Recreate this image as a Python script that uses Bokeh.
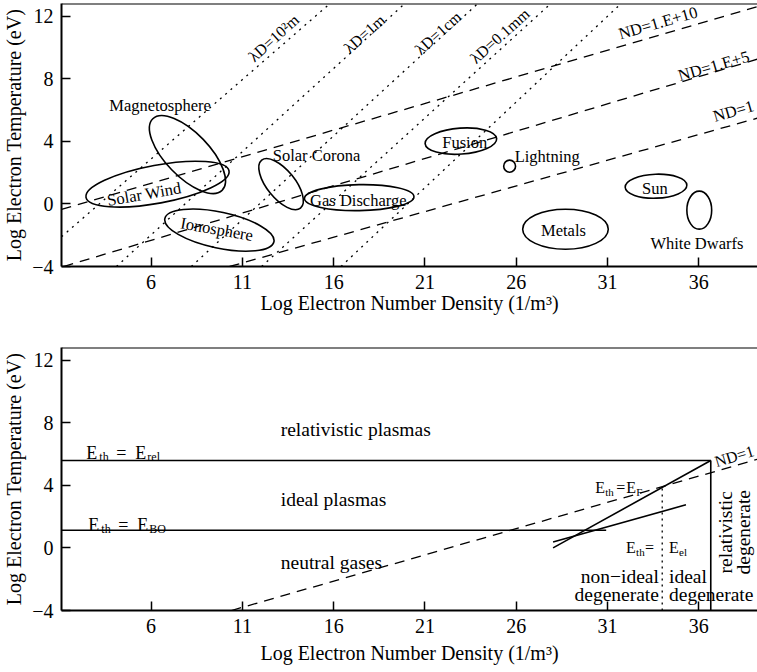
from bokeh.plotting import figure
from bokeh.layouts import column
from bokeh.models import FixedTicker, Range1d, Span
from bokeh.embed import file_html
from bokeh.resources import INLINE
from bokeh.core.properties import value

FONT = "Liberation Serif"

# ---------------- shared axes ----------------
x_ticks = [6, 11, 16, 21, 26, 31, 36]
y_ticks = [-4, 0, 4, 8, 12]
x_lo, x_hi = 1.09, 39.22
y_lo, y_hi = -4.0, 12.8
x_title = "Log Electron Number Density (1/m³)"
y_title = "Log Electron Temperature (eV)"

# ---------------- top panel: Debye-length lines (dotted) ----------------
debye_names = ["λD=10²m", "λD=1m", "λD=1cm", "λD=0.1mm"]
debye_x0 = [1.09, 4.1, 8.2, 12.05, 16.4]
debye_y0 = [-2.1, -4.0, -4.0, -4.0, -4.0]
debye_x1 = [15.8, 19.9, 23.9, 27.9, 31.75]
debye_y1 = [12.8, 12.8, 12.8, 12.8, 12.8]
debye_lab_x = [12.72, 17.68, 21.72, 25.1]
debye_lab_y = [10.6, 10.86, 10.92, 10.73]

# ---------------- top panel: plasma-parameter lines (dashed) ----------------
nd_names = ["ND=1.E+10", "ND=1.E+5", "ND=1"]
nd_x0 = [1.09, 1.2, 10.3]
nd_y0 = [-0.35, -4.0, -4.0]
nd_x1 = [39.22, 39.22, 39.22]
nd_y1 = [12.6, 9.25, 5.48]
nd_lab_x = [33.77, 36.82, 37.9]
nd_lab_y = [11.56, 8.81, 5.93]

# ---------------- top panel: plasma regions (ellipses) ----------------
regions = ["Magnetosphere", "Solar Wind", "Ionosphere", "Solar Corona",
           "Gas Discharge", "Fusion", "Lightning", "Sun", "Metals", "White Dwarfs"]
reg_x = [7.99, 6.35, 9.74, 13.12, 17.40, 22.97, 25.64, 33.66, 28.70, 36.03]
reg_y = [3.15, 1.26, -1.68, 1.26, 0.40, 4.01, 2.41, 1.13, -1.62, -0.40]
reg_w = [5.46, 7.97, 6.11, 3.38, 6.0, 3.93, 0.65, 3.38, 4.69, 1.36]
reg_h = [2.8, 2.43, 2.3, 1.79, 1.66, 1.66, 0.77, 1.53, 2.56, 2.43]
reg_angle = [-46, 10.5, -12, -51, 1, 4, 0, 2, 0, 0]
reg_lab_x = [6.49, 5.62, 9.6, 15.06, 17.35, 23.18, 27.7, 33.6, 28.59, 35.9]
reg_lab_y = [6.31, 0.62, -1.62, 3.12, 0.24, 3.95, 3.05, 1.0, -1.68, -2.51]
reg_lab_angle = [0, 10, -10, 0, 0, 0, 0, 0, 0, 0]

# ---------------- bottom panel ----------------
rel_level, rel_end = 5.58, 36.66      # E_th = E_rel
bo_level, bo_end = 1.13, 30.93        # E_th = E_BO
fermi_x = [28.02, 36.66]
fermi_y = [0.0, 5.58]
coul_x = [28.02, 35.3]
coul_y = [0.38, 2.75]
nd1_x = [10.4, 39.22]
nd1_y = [-4.0, 5.66]
split_x, split_top = 34.0, 3.86
regime_names = ["relativistic plasmas", "ideal plasmas", "neutral gases"]
regime_x = [13.1, 13.1, 13.1]
regime_y = [7.58, 3.11, -0.91]


def make_fig(height, top, bottom, label_gap):
    p = figure(width=757, height=height, output_backend="svg", toolbar_location=None,
               x_range=Range1d(x_lo, x_hi), y_range=Range1d(y_lo, y_hi),
               min_border_left=58, min_border_right=0,
               min_border_top=top, min_border_bottom=bottom)
    p.xgrid.visible = False
    p.ygrid.visible = False
    p.outline_line_color = None
    p.add_layout(Span(location=y_hi, dimension="width", line_color="black", line_width=2))
    p.background_fill_color = "white"
    p.border_fill_color = "white"
    p.xaxis.ticker = FixedTicker(ticks=x_ticks)
    p.yaxis.ticker = FixedTicker(ticks=y_ticks)
    for ax in (p.xaxis, p.yaxis):
        ax.axis_line_width = 2
        ax.axis_line_color = "black"
        ax.major_tick_in = 9
        ax.major_tick_out = 0
        ax.major_tick_line_width = 1.5
        ax.major_tick_line_color = "black"
        ax.minor_tick_line_color = None
        ax.major_label_text_font = FONT
        ax.major_label_text_font_size = "20px"
        ax.major_label_text_color = "black"
        ax.axis_label_text_font = FONT
        ax.axis_label_text_font_size = "20px"
        ax.axis_label_text_font_style = "normal"
        ax.axis_label_text_color = "black"
    p.xaxis.axis_label = x_title
    p.yaxis.axis_label = y_title
    p.xaxis.major_label_standoff = 8
    p.xaxis.axis_label_standoff = label_gap
    p.yaxis.major_label_standoff = 8
    p.yaxis.axis_label_standoff = 4
    return p


def label(p, x, y, txt, size, angle=0, align="center", baseline="middle", xo=0, yo=0):
    p.text(x=[x], y=[y], text=[txt], angle=angle, angle_units="deg",
           x_offset=xo, y_offset=yo,
           text_font=value(FONT), text_font_size=value(size), text_color="black",
           text_align=align, text_baseline=baseline)


def eq_label(p, x, y, parts, main, sub):
    for txt, off, is_sub in parts:
        label(p, x, y, txt, sub if is_sub else main, align="left",
              baseline="alphabetic", xo=off, yo=(4 if is_sub else 0))


# ================= TOP PANEL =================
p1 = make_fig(330, 3, 64, 0)
p1.segment(debye_x0, debye_y0, debye_x1, debye_y1, line_color="black",
           line_width=1.3, line_dash="2 5")
p1.segment(nd_x0, nd_y0, nd_x1, nd_y1, line_color="black",
           line_width=1.3, line_dash="10 7")
p1.ellipse(x=reg_x, y=reg_y, width=reg_w, height=reg_h, angle=reg_angle,
           angle_units="deg", fill_color=None, line_color="black", line_width=1.6)
p1.text(x=reg_lab_x, y=reg_lab_y, text=regions, angle=reg_lab_angle, angle_units="deg",
        text_font=value(FONT), text_font_size=value("16.5px"), text_color="black",
        text_align="center", text_baseline="middle")
p1.text(x=debye_lab_x, y=debye_lab_y, text=debye_names, angle=42, angle_units="deg",
        text_font=value(FONT), text_font_size=value("16px"), text_color="black",
        text_align="center", text_baseline="middle")
p1.text(x=nd_lab_x, y=nd_lab_y, text=nd_names, angle=16, angle_units="deg",
        text_font=value(FONT), text_font_size=value("16.5px"), text_color="black",
        text_align="center", text_baseline="middle")

# ================= BOTTOM PANEL =================
p2 = make_fig(340, 17, 60, 6)
p2.segment([x_lo, x_lo], [rel_level, bo_level], [rel_end, bo_end], [rel_level, bo_level],
           line_color="black", line_width=1.6)
p2.line(fermi_x, fermi_y, line_color="black", line_width=1.6)
p2.line(coul_x, coul_y, line_color="black", line_width=1.6)
p2.line(nd1_x, nd1_y, line_color="black", line_width=1.3, line_dash="10 7")
p2.segment([rel_end], [y_lo], [rel_end], [rel_level], line_color="black", line_width=1.6)
p2.segment([split_x], [y_lo], [split_x], [split_top], line_color="black",
           line_width=1.3, line_dash="2 4")

p2.text(x=regime_x, y=regime_y, text=regime_names,
        text_font=value(FONT), text_font_size=value("19.5px"), text_color="black",
        text_align="left", text_baseline="middle")

eq_label(p2, 2.45, 6.05, [("E", 0, False), ("th", 13, True), ("=", 30, False),
                          ("E", 49, False), ("rel", 61, True)], "18px", "12px")
eq_label(p2, 2.56, 1.43, [("E", 0, False), ("th", 13, True), ("=", 30, False),
                          ("E", 49, False), ("BO", 61, True)], "18px", "12px")
eq_label(p2, 30.33, 3.83, [("E", 0, False), ("th", 10, True), ("=", 21, False),
                           ("E", 31, False), ("F", 41, True)], "16px", "11px")
eq_label(p2, 32.02, 0.0, [("E", 0, False), ("th", 10, True), ("=", 19, False),
                          ("E", 43, False), ("el", 53, True)], "16px", "11px")

label(p2, 33.82, -1.81, "non−ideal", "19.5px", align="right")
label(p2, 33.82, -2.96, "degenerate", "19.5px", align="right")
label(p2, 34.37, -1.81, "ideal", "19.5px", align="left")
label(p2, 34.37, -2.96, "degenerate", "19.5px", align="left")
label(p2, 37.48, 1.0, "relativistic", "19.5px", angle=90)
label(p2, 38.46, 1.0, "degenerate", "19.5px", angle=90)
label(p2, 37.95, 5.86, "ND=1", "16px", angle=17)

layout = column(p1, p2)
open("out.html", "w").write(file_html(layout, INLINE))
